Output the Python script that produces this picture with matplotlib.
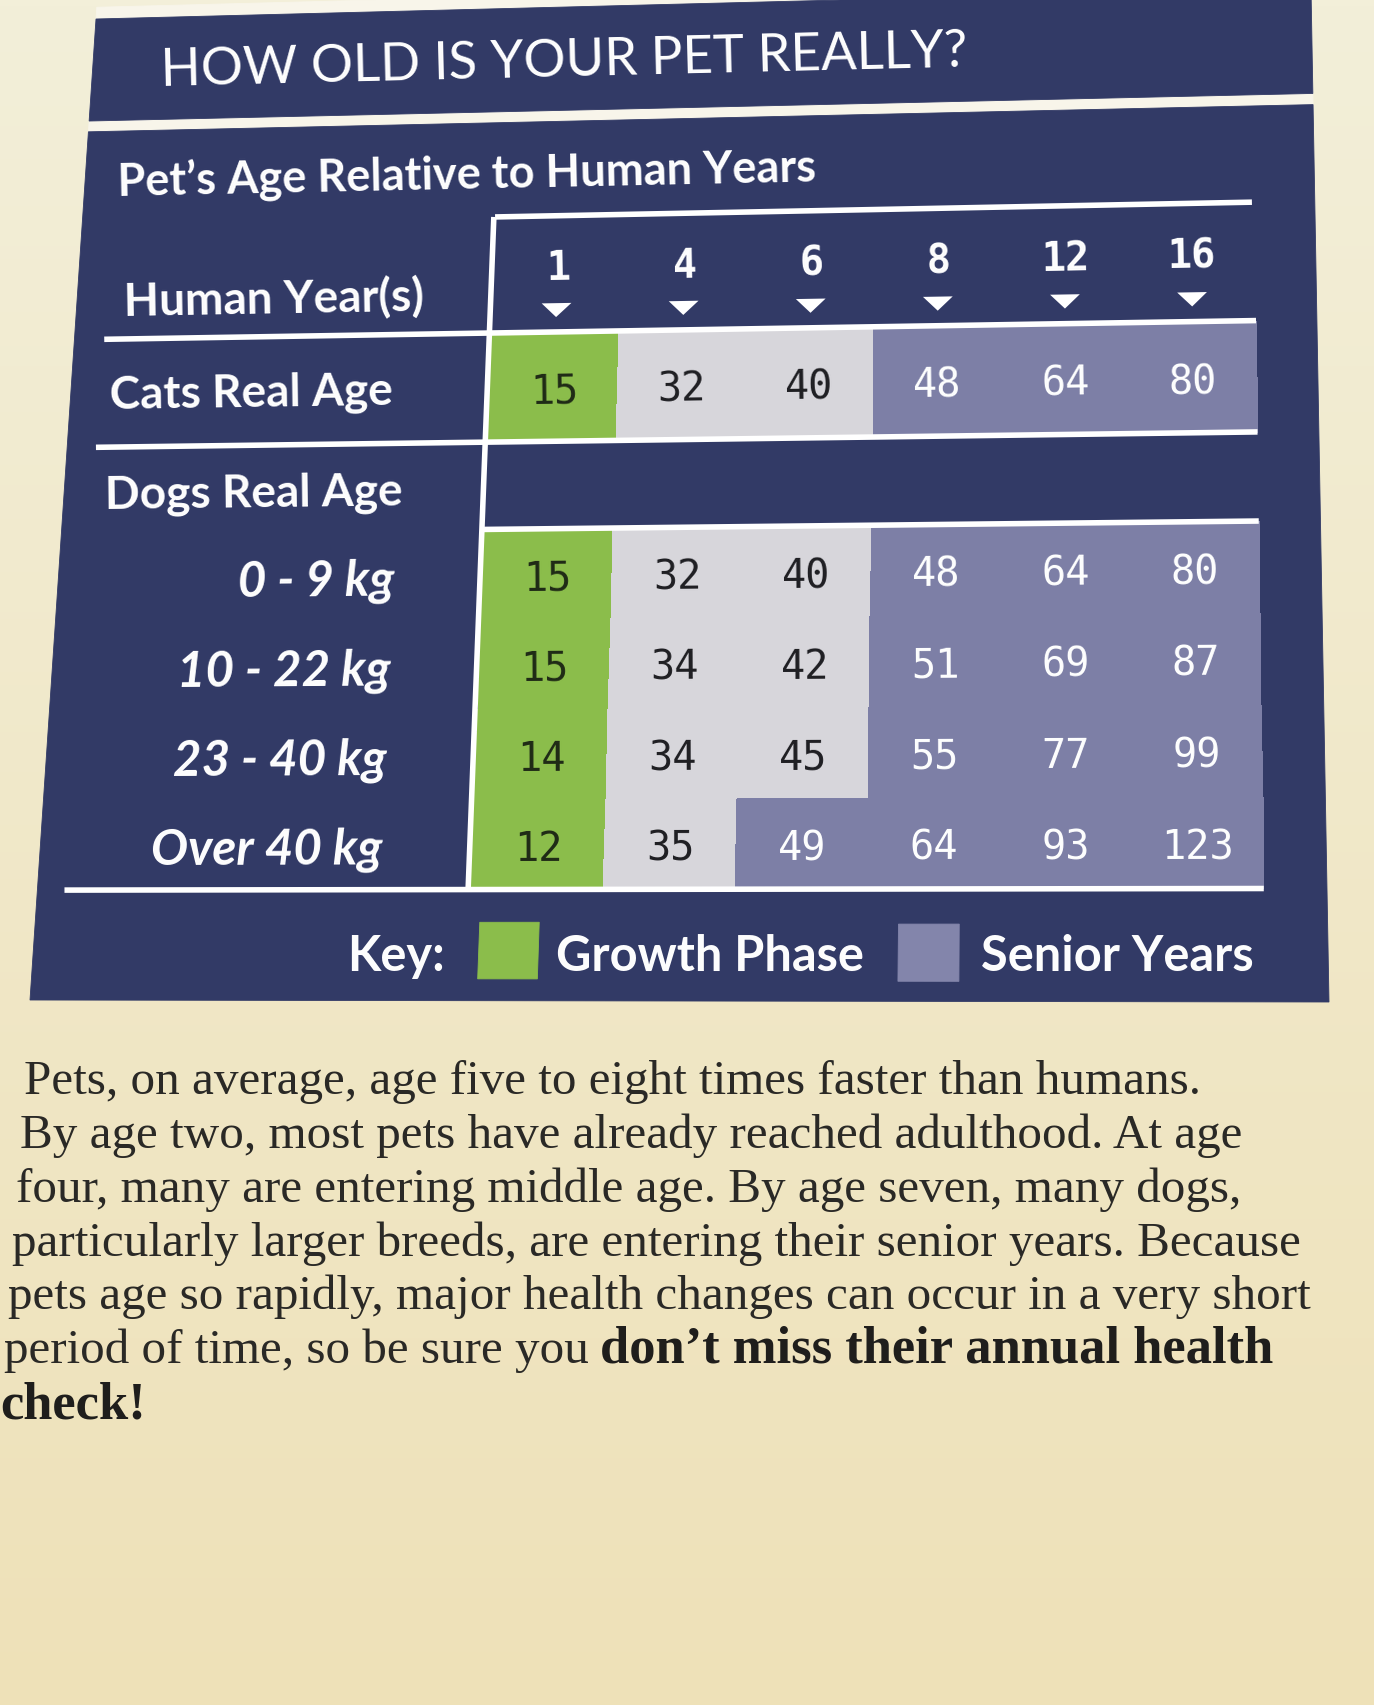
import numpy as np
import matplotlib.pyplot as plt
from matplotlib.patches import Polygon
from matplotlib.colors import LinearSegmentedColormap, ListedColormap

# Dados da tabela
human_years = ['1', '4', '6', '8', '12', '16']
cat_ages = [15, 32, 40, 48, 64, 80]
cat_phase = ['growth', 'adult', 'adult', 'senior', 'senior', 'senior']
dog_weights = ['0 - 9 kg', '10 - 22 kg', '23 - 40 kg', 'Over 40 kg']
dog_ages = [[15, 32, 40, 48, 64, 80],
            [15, 34, 42, 51, 69, 87],
            [14, 34, 45, 55, 77, 99],
            [12, 35, 49, 64, 93, 123]]
dog_phase = [['growth', 'adult', 'adult', 'senior', 'senior', 'senior'],
             ['growth', 'adult', 'adult', 'senior', 'senior', 'senior'],
             ['growth', 'adult', 'adult', 'senior', 'senior', 'senior'],
             ['growth', 'adult', 'senior', 'senior', 'senior', 'senior']]
key_labels = ['Growth Phase', 'Senior Years']

para_regular = ['Pets, on average, age five to eight times faster than humans.',
                'By age two, most pets have already reached adulthood. At age',
                'four, many are entering middle age. By age seven, many dogs,',
                'particularly larger breeds, are entering their senior years. Because',
                'pets age so rapidly, major health changes can occur in a very short',
                'period of time, so be sure you',
                '']
para_bold = ['', '', '', '', '', 'don\u2019t miss their annual health', 'check!']

# Cores
NAVY = '#323a66'
phases = ['growth', 'adult', 'senior']
cell_color = {'growth': '#8bbd4b', 'adult': '#d7d6db', 'senior': '#7d7fa6'}
num_color = {'growth': '#1f2a16', 'adult': '#1e1e22', 'senior': 'white'}
phase_cmap = ListedColormap([cell_color[p] for p in phases])

fig = plt.figure(figsize=(13.74, 17.06), dpi=100)
ax = fig.add_axes([0, 0, 1, 1])
ax.set_xlim(0, 1374)
ax.set_ylim(1706, 0)
ax.axis('off')
renderer = fig.canvas.get_renderer()

# fundo de papel
grad = np.linspace(0, 1, 256).reshape(-1, 1)
paper = LinearSegmentedColormap.from_list('paper', ['#f3efd9', '#eee1b8'])
ax.imshow(grad, cmap=paper, extent=(0, 1374, 1706, 0), aspect='auto', zorder=0)

# cantos do quadro (foto em perspectiva)
TL = (96., 20.)
TR = (1311., -11.)
BR = (1329., 1003.)
BL = (30., 1001.)


def warp(u, v):
    x = (1-u)*(1-v)*TL[0] + u*(1-v)*TR[0] + u*v*BR[0] + (1-u)*v*BL[0]
    y = (1-u)*(1-v)*TL[1] + u*(1-v)*TR[1] + u*v*BR[1] + (1-u)*v*BL[1]
    return x, y


def angle(u, v):
    ax_, ay = warp(u - 0.01, v)
    bx, by = warp(u + 0.01, v)
    return np.degrees(np.arctan2(-(by - ay), bx - ax_))


def quad(u0, u1, v0, v1, color):
    pts = [warp(u0, v0), warp(u1, v0), warp(u1, v1), warp(u0, v1)]
    ax.add_patch(Polygon(pts, closed=True, fc=color, ec=color, lw=0.6, zorder=1))


def wline(u0, u1, v0, v1):
    x0, y0 = warp(u0, v0)
    x1, y1 = warp(u1, v1)
    ax.plot([x0, x1], [y0, y1], color='white', lw=4, solid_capstyle='butt', zorder=3)


def label(u, v, s, **kw):
    x, y = warp(u, v)
    kw.setdefault('va', 'center_baseline')
    return ax.text(x, y, s, rotation=angle(u, v), rotation_mode='anchor', zorder=4, **kw)


def fit(t, width):
    w = t.get_window_extent(renderer).width
    t.set_fontsize(t.get_fontsize() * width / w)
    return t.get_fontsize()


def cells(v_edges, phase_rows):
    uu, vv = np.meshgrid(U0 + DU*np.arange(len(human_years) + 1), v_edges)
    X, Y = warp(uu, vv)
    C = np.array([[phases.index(p) for p in row] for row in phase_rows])
    ax.pcolormesh(X, Y, C, cmap=phase_cmap, vmin=-0.5, vmax=2.5, shading='flat', zorder=1)


# faixas escuras
quad(0, 1, -0.012, 0.125, '#f8f5ea')
quad(0, 1, 0, 0.104, NAVY)
quad(0, 1, 0.115, 1, NAVY)

t = label(0.056, 0.050, 'HOW OLD IS YOUR PET REALLY?', color='white',
          family='Lato', fontsize=36)
fit(t, 807)

t = label(0.026, 0.162, 'Pet\u2019s Age Relative to Human Years', color='white',
          family='Lato', weight='bold', fontsize=30)
fit(t, 698)

# grade
U0, DU = 0.336, 0.1025
V_HEAD, V_CAT = 0.327, 0.437
V_DOG, V_END = 0.525, 0.888
DV = (V_END - V_DOG) / len(dog_weights)

cells([V_HEAD, V_CAT], [cat_phase])
cells(V_DOG + DV*np.arange(len(dog_weights) + 1), dog_phase)

wline(0.335, 0.949, 0.210, 0.210)
wline(0.024, 0.951, V_HEAD, V_HEAD)
wline(0.023, 0.951, V_CAT, V_CAT)
wline(0.334, 0.951, V_DOG, V_DOG)
wline(0.021, 0.951, V_END, V_END)
wline(0.334, 0.334, 0.210, V_END)

# cabecalho
for j, yr in enumerate(human_years):
    uc = U0 + (j + 0.5)*DU
    label(uc, 0.258, yr, ha='center', color='white', family='DejaVu Sans Mono',
          weight='bold', fontsize=29)
    tri = [warp(uc - 0.012, 0.298), warp(uc + 0.012, 0.298), warp(uc, 0.312)]
    ax.add_patch(Polygon(tri, closed=True, fc='white', ec='none', zorder=4))

t = label(0.031, 0.379, 'Cats Real Age', color='white', family='Lato', weight='bold',
          fontsize=28)
size = fit(t, 284)
label(0.037, 0.284, 'Human Year(s)', color='white', family='Lato', weight='bold',
      fontsize=size)
label(0.032, 0.481, 'Dogs Real Age', color='white', family='Lato', weight='bold',
      fontsize=size)

for j, (val, ph) in enumerate(zip(cat_ages, cat_phase)):
    label(U0 + (j + 0.5)*DU, 0.382, str(val), ha='center', color=num_color[ph],
          family='DejaVu Sans Mono', fontsize=29)

t = label(0.266, V_DOG + 3.5*DV, dog_weights[3], ha='right', color='white',
          family='Lato', weight='bold', style='italic', fontsize=28)
wsize = fit(t, 231)
for i, w in enumerate(dog_weights[:3]):
    label(0.266, V_DOG + (i + 0.5)*DV, w, ha='right', color='white', family='Lato',
          weight='bold', style='italic', fontsize=wsize)

for i, (vals, phs) in enumerate(zip(dog_ages, dog_phase)):
    for j, (val, ph) in enumerate(zip(vals, phs)):
        label(U0 + (j + 0.5)*DU, V_DOG + (i + 0.5)*DV, str(val), ha='center',
              color=num_color[ph], family='DejaVu Sans Mono', fontsize=29)

# legenda
quad(0.344, 0.390, 0.921, 0.978, cell_color['growth'])
quad(0.668, 0.715, 0.923, 0.980, '#8385ab')
t = label(0.404, 0.950, key_labels[0], color='white', family='Lato', weight='bold',
          fontsize=28)
ksize = fit(t, 308)
label(0.732, 0.950, key_labels[1], color='white', family='Lato', weight='bold',
      fontsize=ksize)
label(0.318, 0.950, 'Key:', ha='right', color='white', family='Lato', weight='bold',
      fontsize=ksize)

# texto abaixo da tabela
t = ax.text(9, 1240, para_regular[3], family='Liberation Serif', fontsize=30,
            va='center_baseline')
psize = fit(t, 1290)
t.remove()
bsize = psize * 1.07
for i, (reg, bold) in enumerate(zip(para_regular, para_bold)):
    x = 24 - 4*i
    y = 1077 + 53.8*i
    if reg:
        t = ax.text(x, y, reg, family='Liberation Serif', fontsize=psize,
                    color='#2a2926', va='center_baseline')
        if bold:
            ax.annotate(bold, xy=(1, 0), xycoords=t, xytext=(8, 0),
                        textcoords='offset points', va='bottom', ha='left',
                        family='Liberation Serif', weight='bold', fontsize=bsize,
                        color='#1f1e1c')
    else:
        ax.text(x, y, bold, family='Liberation Serif', weight='bold', fontsize=bsize,
                color='#1f1e1c', va='center_baseline')

fig.savefig('out.png', dpi=100)
